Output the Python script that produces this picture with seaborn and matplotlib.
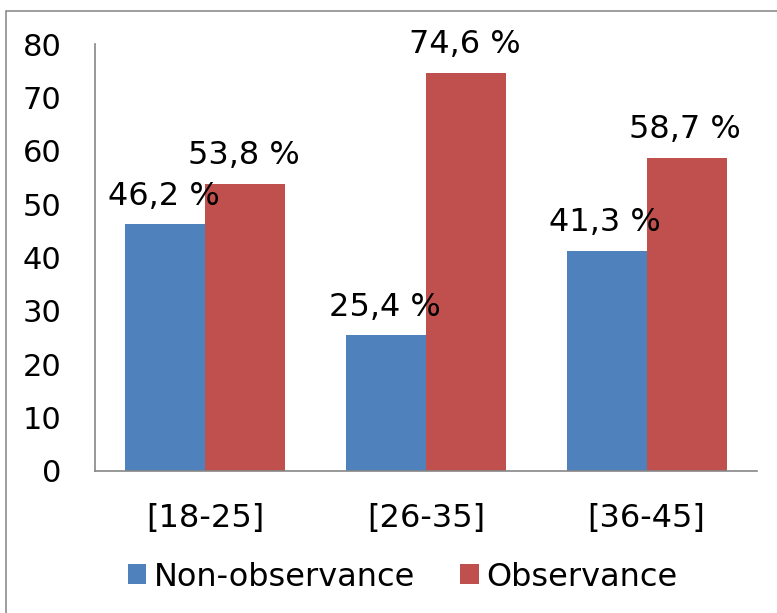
import matplotlib
matplotlib.use("Agg")
import matplotlib.pyplot as plt
from matplotlib.patches import Patch, Rectangle
import seaborn as sns
import pandas as pd

# Age groups and the share (in %) of each behaviour
age_groups = ["[18-25]", "[26-35]", "[36-45]"]
non_observance = [46.2, 25.4, 41.3]
observance = [53.8, 74.6, 58.7]
series_names = ["Non-observance", "Observance"]
series_colors = ["#4F81BD", "#C0504D"]
y_ticks = [0, 10, 20, 30, 40, 50, 60, 70, 80]

df = pd.DataFrame({
    "age": age_groups * 2,
    "value": non_observance + observance,
    "series": [series_names[0]] * 3 + [series_names[1]] * 3,
})

sns.set_style("white")
plt.rcParams["font.family"] = ["DejaVu Sans"]
plt.rcParams["text.color"] = "black"
FS_Y = 22
FS = 23

fig = plt.figure(figsize=(7.77, 6.13), dpi=100)
ax = fig.add_axes([95 / 777, 1 - 471 / 613, (757 - 95) / 777, (471 - 44) / 613])

sns.barplot(data=df, x="age", y="value", hue="series", palette=series_colors,
            hue_order=series_names, order=age_groups, width=0.725,
            saturation=1, ax=ax, legend=False, edgecolor="none")

ax.set_ylim(0, 80)
ax.set_yticks(y_ticks)
ax.set_xlim(-0.5, 2.5)
ax.set_xlabel("")
ax.set_ylabel("")
ax.tick_params(axis="both", length=0, colors="black")
ax.tick_params(axis="y", pad=24, labelsize=FS_Y)
ax.tick_params(axis="x", pad=23, labelsize=FS)

for side in ["top", "right"]:
    ax.spines[side].set_visible(False)
for side in ["left", "bottom"]:
    ax.spines[side].set_color("#868686")
    ax.spines[side].set_linewidth(1.2)

# Value labels above each bar
for container, vals in zip(ax.containers, [non_observance, observance]):
    for bar, v in zip(container, vals):
        cx = bar.get_x() + bar.get_width() / 2
        ax.annotate(f"{v:.1f} %".replace(".", ","), (cx, bar.get_height()),
                    xytext=(-1, 14), textcoords="offset points",
                    ha="center", va="baseline", fontsize=FS, color="black")

handles = [Patch(facecolor=c, edgecolor="none", label=n)
           for c, n in zip(series_colors, series_names)]
fig.legend(handles=handles, loc="center", ncol=2,
           bbox_to_anchor=(403 / 777, 1 - 577 / 613), frameon=False,
           fontsize=FS, handlelength=0.57, handleheight=0.57,
           handletextpad=0.25, columnspacing=1.4, borderpad=0,
           labelcolor="black")

# Chart area outline
fig.add_artist(Rectangle((6 / 777, -0.05), 1.2, 1 - 11 / 613 + 0.05,
                         transform=fig.transFigure, fill=False,
                         edgecolor="#8c8c8c", linewidth=1.2, clip_on=False))

fig.savefig("out.png", dpi=100)
